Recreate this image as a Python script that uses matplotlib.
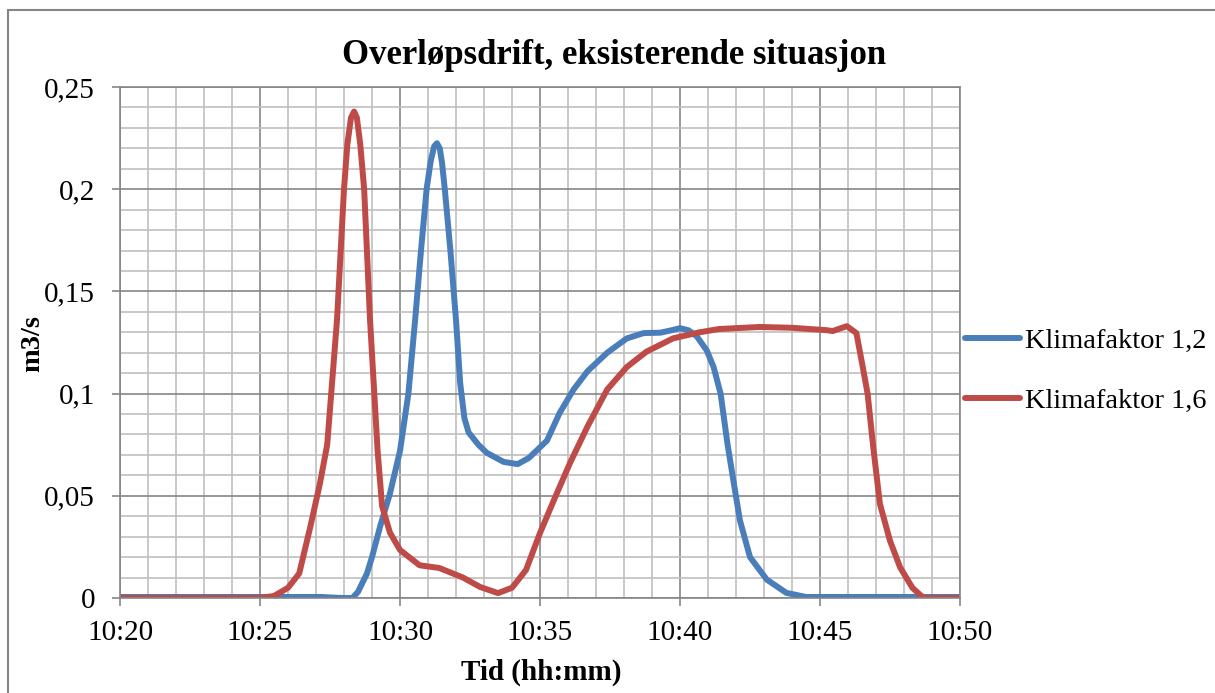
import matplotlib.pyplot as plt
from matplotlib.patches import Rectangle
from matplotlib.ticker import MultipleLocator, FuncFormatter

# tid i minutter etter kl. 10:00, vannføring i m3/s
t_12 = [20, 25, 27.2, 27.6, 28.0, 28.3, 28.5, 28.82, 29.0, 29.29, 29.64, 30.0,
        30.3, 30.54, 30.75, 30.95, 31.1, 31.22, 31.32, 31.42, 31.5, 31.6, 31.8, 32.0, 32.15,
        32.3, 32.45, 32.8, 33.1, 33.7, 34.2, 34.6, 35.25, 35.7, 36.2, 36.7, 37.4,
        38.1, 38.7, 39.3, 39.7, 40.0, 40.3, 40.6, 40.96, 41.2, 41.45, 41.7, 41.9,
        42.14, 42.5, 43.1, 43.8, 44.5, 50]
q_12 = [0.0005, 0.0005, 0.0005, 0.0002, 0.0, 0.0, 0.003, 0.012, 0.02, 0.035, 0.051, 0.072,
        0.100, 0.136, 0.17, 0.2, 0.214, 0.221, 0.2225, 0.220, 0.213, 0.2, 0.17, 0.136, 0.105,
        0.088, 0.081, 0.075, 0.071, 0.0666, 0.0655, 0.0685, 0.077, 0.0905, 0.102, 0.111, 0.12,
        0.127, 0.1296, 0.1298, 0.131, 0.132, 0.131, 0.128, 0.121, 0.113, 0.100, 0.075, 0.058,
        0.038, 0.020, 0.009, 0.0025, 0.0005, 0.0005]

t_16 = [20, 25.0, 25.5, 26.0, 26.4, 26.8, 27.14, 27.4, 27.75, 28.0, 28.12, 28.25, 28.36, 28.46, 28.58,
        28.72, 28.93, 29.2, 29.36, 29.64, 30.0, 30.7, 31.4, 32.25, 32.86, 33.5, 34.0,
        34.5, 35.0, 35.5, 36.07, 36.7, 37.4, 38.1, 38.8, 39.75, 40.7, 41.4, 42.86, 44.0,
        45.25, 45.45, 45.96, 46.3, 46.5, 46.7, 46.9, 47.14, 47.5, 47.86, 48.3, 48.7, 50]
q_16 = [0.0, 0.0, 0.001, 0.005, 0.012, 0.035, 0.056, 0.075, 0.136, 0.2, 0.222, 0.235, 0.238, 0.235, 0.222,
        0.2, 0.136, 0.072, 0.045, 0.032, 0.0235, 0.016, 0.0147, 0.010, 0.0054, 0.0024, 0.005,
        0.0137, 0.0318, 0.048, 0.066, 0.084, 0.102, 0.113, 0.1205, 0.127, 0.130, 0.1316, 0.1326, 0.1322,
        0.131, 0.1306, 0.133, 0.1296, 0.115, 0.100, 0.074, 0.046, 0.028, 0.015, 0.005, 0.0, 0.0]

plt.rcParams['font.family'] = ['Liberation Serif', 'DejaVu Serif']

W, H = 1215, 693
fig = plt.figure(figsize=(W / 100, H / 100), dpi=100)
ax = fig.add_axes([120 / W, (H - 598) / H, 840 / W, 511 / H])

ax.plot(t_12, q_12, color='#4A7EBB', lw=4.3, label='Klimafaktor 1,2',
        solid_capstyle='round', solid_joinstyle='round')
ax.plot(t_16, q_16, color='#BE4B48', lw=4.3, label='Klimafaktor 1,6',
        solid_capstyle='round', solid_joinstyle='round')

ax.set_xlim(20, 50)
ax.set_ylim(0, 0.25)
ax.xaxis.set_major_locator(MultipleLocator(5))
ax.xaxis.set_minor_locator(MultipleLocator(1))
ax.yaxis.set_major_locator(MultipleLocator(0.05))
ax.yaxis.set_minor_locator(MultipleLocator(0.01))
ax.xaxis.set_major_formatter(FuncFormatter(lambda v, p: '10:%02d' % int(round(v))))
ax.yaxis.set_major_formatter(FuncFormatter(lambda v, p: ('%g' % round(v, 2)).replace('.', ',')))

ax.grid(which='minor', color='#BFBFBF', lw=1.2)
ax.grid(which='major', color='#868686', lw=1.2)
ax.set_axisbelow(True)
for s in ax.spines.values():
    s.set_color('#868686')
    s.set_linewidth(1.2)
ax.tick_params(which='major', length=6, width=1.2, color='#868686', labelsize=21)
ax.tick_params(axis='y', pad=12)
ax.tick_params(axis='x', pad=10)
ax.tick_params(which='minor', length=0)

fig.text(614 / W, 1 - 64 / H, 'Overløpsdrift, eksisterende situasjon', fontsize=25,
         fontweight='bold', ha='center', va='baseline')
fig.text(541 / W, 1 - 672 / H, 'Tid (hh:mm)', fontsize=21, fontweight='bold',
         ha='center', va='center')
fig.text(33 / W, 1 - 344 / H, 'm3/s', fontsize=20.5, fontweight='bold', rotation=90,
         ha='center', va='center')

ax.legend(loc='center left', bbox_to_anchor=(965 / W, 1 - 371 / H), bbox_transform=fig.transFigure,
          frameon=False, fontsize=20.5, handlelength=1.93, handletextpad=0.18,
          labelspacing=1.2, borderaxespad=0, borderpad=0)

# ramme rundt hele diagrammet
fig.patches.append(Rectangle((8 / W, -0.1), 1.2, 1.1 - 10 / H, transform=fig.transFigure,
                             fill=False, edgecolor='#868686', lw=1.5))

fig.savefig('out.png', dpi=100)
